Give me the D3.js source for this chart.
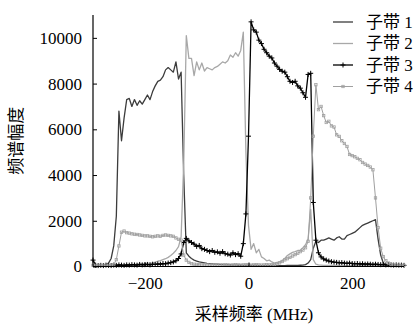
<!DOCTYPE html>
<html>
<head>
<meta charset="utf-8">
<script src="https://cdn.jsdelivr.net/npm/d3@7"></script>
<style>
  body { margin: 0; background: #fff; }
</style>
</head>
<body>
<script>
// sampling frequency grid (MHz)
const freqs = [
  -300, -295, -290, -285, -280, -275, -270, -265, -260, -255,
  -250, -245, -240, -235, -230, -225, -220, -215, -210, -205,
  -200, -195, -190, -185, -180, -175, -170, -165, -160, -155,
  -150, -145, -140, -135, -130, -125, -120, -115, -110, -105,
  -100, -95, -90, -85, -80, -75, -70, -65, -60, -55,
  -50, -45, -40, -35, -30, -25, -20, -15, -10, -5,
  0, 5, 10, 15, 20, 25, 30, 35, 40, 45,
  50, 55, 60, 65, 70, 75, 80, 85, 90, 95,
  100, 105, 110, 115, 120, 125, 130, 135, 140, 145,
  150, 155, 160, 165, 170, 175, 180, 185, 190, 195,
  200, 205, 210, 215, 220, 225, 230, 235, 240, 245,
  250, 255, 260, 265, 270, 275, 280, 285, 290, 295,
  300
];

const sub1 = [
  30, 30, 30, 40, 50, 80, 150, 350, 900, 2200,
  6800, 5500, 6500, 7300, 7350, 7000, 7300, 7050, 7250, 7100,
  7300, 7500, 7300, 7650, 7900, 8100, 8150, 8300, 8600, 8700,
  8600, 8500, 8950, 8200, 8500, 4000, 600, 450, 350, 280,
  240, 200, 180, 160, 140, 130, 120, 110, 100, 90,
  80, 75, 70, 65, 60, 60, 55, 55, 50, 50,
  50, 45, 45, 45, 40, 40, 40, 40, 40, 40,
  40, 40, 40, 40, 40, 45, 45, 45, 50, 50,
  55, 60, 80, 150, 300, 800, 1100, 1050, 1150, 1150,
  1200, 1250, 1200, 1150, 1250, 1300, 1200, 1200, 1350, 1400,
  1450, 1500, 1600, 1700, 1800, 1850, 1900, 1950, 2000, 2050,
  1200, 500, 150, 60, 40, 30, 30, 30, 30, 30,
  30
];

const sub2 = [
  40, 40, 40, 40, 40, 40, 40, 40, 40, 40,
  40, 45, 50, 60, 70, 80, 90, 100, 110, 120,
  130, 140, 150, 160, 190, 230, 260, 300, 340, 400,
  480, 580, 700, 870, 1300, 4500, 10100, 9100, 9100, 8350,
  8950, 8600, 8900, 8550, 8700, 8650, 8600, 8700, 8750, 8850,
  8950, 8900, 9000, 9250, 9150, 9350, 9200, 9450, 10250, 5000,
  1800, 750, 1000, 600, 750, 420, 350, 250, 280, 200,
  150, 180, 200, 260, 350, 480, 550, 620, 650, 700,
  720, 820, 950, 1200, 2500, 300, 100, 70, 60, 50,
  50, 50, 45, 45, 45, 40, 40, 40, 40, 40,
  40, 40, 40, 40, 40, 40, 40, 40, 40, 40,
  40, 40, 40, 40, 40, 40, 40, 40, 40, 40,
  40
];

const sub3 = [
  280, 60, 40, 50, 40, 60, 50, 40, 60, 50,
  70, 60, 50, 70, 60, 80, 70, 60, 90, 70,
  80, 90, 70, 100, 90, 110, 100, 130, 120, 150,
  170, 200, 250, 350, 550, 1050, 1230, 1120, 1050, 980,
  880, 920, 780, 750, 700, 650, 700, 620, 640, 580,
  650, 560, 540, 500, 600, 520, 560, 450, 1000, 2300,
  5700, 10700, 10350, 10250, 9900, 9750, 9500, 9350, 9200, 9120,
  8900, 8760, 8620, 8540, 8500, 8300, 8100, 8050, 8100, 7900,
  7800, 7600, 7400, 8400, 8450, 2800, 1150, 600, 420, 330,
  280, 240, 210, 190, 180, 160, 170, 150, 140, 150,
  130, 120, 130, 110, 120, 100, 110, 100, 90, 100,
  90, 80, 90, 70, 80, 70, 60, 70, 60, 60,
  50
];

const sub4 = [
  50, 50, 50, 50, 50, 50, 50, 50, 80, 300,
  900, 1500, 1550, 1480, 1460, 1430, 1410, 1400, 1380, 1360,
  1340, 1340, 1320, 1300, 1320, 1340, 1320, 1360, 1380, 1360,
  1340, 1320, 1250, 1190, 1150, 500, 280, 180, 120, 100,
  90, 80, 70, 80, 70, 60, 70, 80, 70, 60,
  70, 80, 70, 60, 70, 80, 70, 60, 70, 80,
  70, 60, 70, 80, 70, 60, 70, 80, 70, 80,
  90, 120, 160, 220, 290, 340, 400, 460, 520, 580,
  650, 720, 820, 1100, 3000, 5700, 7950, 6860, 7000, 6600,
  6300, 6350, 6150, 6100, 5760, 5690, 5500, 5380, 5250, 4900,
  4850, 4800, 4730, 4670, 4550, 4480, 4420, 4350, 4230, 3000,
  1700, 800, 430, 250, 150, 100, 70, 60, 50, 50,
  50
];

const names = ['子带 1', '子带 2', '子带 3', '子带 4'];
const xTicks = [-200, 0, 200];
const yTicks = [0, 2000, 4000, 6000, 8000, 10000];

const FONT = '"Liberation Serif", "DejaVu Serif", "Noto Sans CJK SC", serif';

const W = 419, H = 325;
const margin = { top: 15, right: 15, bottom: 58.5, left: 93 };

const svg = d3.select('body').append('svg')
  .attr('width', W)
  .attr('height', H);

const x = d3.scaleLinear().domain([-300, 300]).range([margin.left, W - margin.right]);
const y = d3.scaleLinear().domain([0, 11000]).range([H - margin.bottom, margin.top]);

const series = [
  { name: names[0], values: sub1, color: '#3c3c3c', width: 1.3, marker: null },
  { name: names[1], values: sub2, color: '#a8a8a8', width: 1.3, marker: null },
  { name: names[2], values: sub3, color: '#000', width: 1.3, marker: 'plus' },
  { name: names[3], values: sub4, color: '#a0a0a0', width: 1, marker: 'square' }
];

const line = d3.line()
  .x(d => x(d[0]))
  .y(d => y(d[1]));

function drawMarker(g, kind, cx, cy, color) {
  if (kind === 'plus') {
    g.append('path')
      .attr('d', `M${cx - 2.5},${cy}H${cx + 2.5}M${cx},${cy - 2.5}V${cy + 2.5}`)
      .attr('stroke', color).attr('stroke-width', 1);
  } else if (kind === 'square') {
    g.append('rect')
      .attr('x', cx - 1.2).attr('y', cy - 1.2)
      .attr('width', 2.4).attr('height', 2.4)
      .attr('fill', 'none').attr('stroke', color).attr('stroke-width', 0.8);
  }
}

const plot = svg.append('g');
series.forEach(s => {
  const pts = freqs.map((f, i) => [f, s.values[i]]);
  plot.append('path')
    .datum(pts)
    .attr('fill', 'none')
    .attr('stroke', s.color)
    .attr('stroke-width', s.width)
    .attr('stroke-linejoin', 'round')
    .attr('d', line);
  if (s.marker) {
    const mg = plot.append('g');
    pts.forEach(p => drawMarker(mg, s.marker, x(p[0]), y(p[1]), s.color));
  }
});

// axes (ticks pointing inward)
const xAxis = svg.append('g')
  .attr('transform', `translate(0,${y(0)})`)
  .call(d3.axisBottom(x).tickValues(xTicks).tickSizeInner(-4).tickSizeOuter(0).tickPadding(10));
const yAxis = svg.append('g')
  .attr('transform', `translate(${x(-300)},0)`)
  .call(d3.axisLeft(y).tickValues(yTicks).tickFormat(d3.format('d')).tickSizeInner(-4).tickSizeOuter(0).tickPadding(11));

[xAxis, yAxis].forEach(a => {
  a.attr('font-family', null).attr('font-size', null);
  a.select('.domain').attr('stroke', '#000').attr('stroke-width', 1.2);
  a.selectAll('.tick line').attr('stroke', '#000');
  a.selectAll('.tick text')
    .style('font-family', FONT)
    .style('font-size', '17px')
    .attr('fill', '#000');
});
xAxis.selectAll('.tick text').text(d => d < 0 ? '\u2212' + Math.abs(d) : d);
yAxis.select('.domain').attr('d', `M0,${y(0)}V${margin.top}`);
xAxis.select('.domain').attr('d', `M${x(-300)},0H${x(300)}`);

// axis titles
svg.append('text')
  .attr('transform', `translate(22,${(margin.top + y(0)) / 2}) rotate(-90)`)
  .attr('text-anchor', 'middle')
  .style('font-family', FONT)
  .style('font-size', '17px')
  .text('频谱幅度');

svg.append('text')
  .attr('x', 254)
  .attr('y', 320)
  .attr('text-anchor', 'middle')
  .style('font-family', FONT)
  .style('font-size', '17px')
  .text('采样频率 (MHz)');

// legend
const legend = svg.append('g');
const rowY = [22, 43.5, 65, 86.5];
series.forEach((s, i) => {
  const ly = rowY[i];
  legend.append('line')
    .attr('x1', 333).attr('x2', 353)
    .attr('y1', ly).attr('y2', ly)
    .attr('stroke', s.color)
    .attr('stroke-width', s.width);
  if (s.marker) drawMarker(legend, s.marker, 343, ly, s.color);
  legend.append('text')
    .attr('x', 366)
    .attr('y', ly)
    .attr('dy', '0.35em')
    .style('font-family', FONT)
    .style('font-size', '17px')
    .text(s.name);
});
</script>
</body>
</html>
